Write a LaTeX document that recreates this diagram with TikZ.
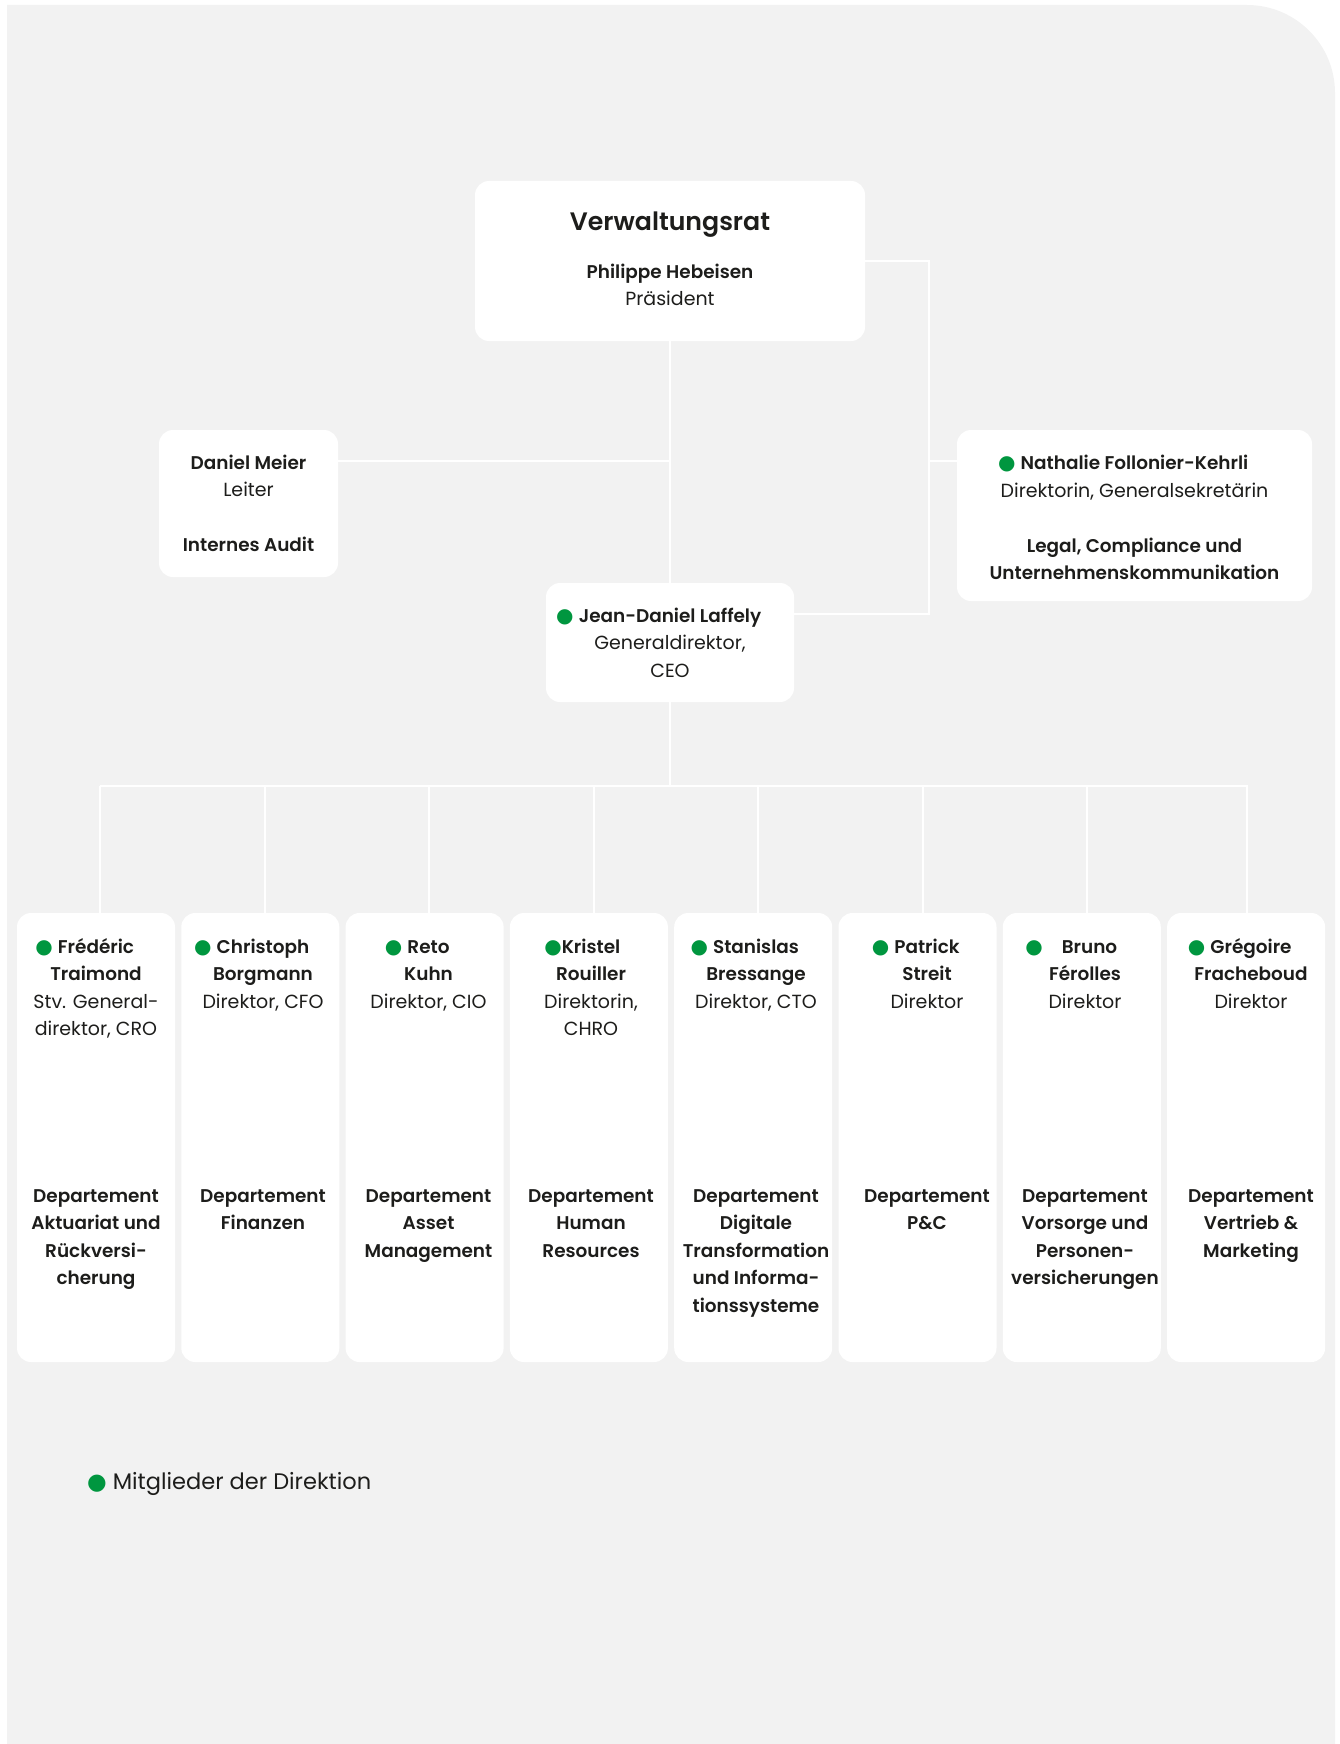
\documentclass[tikz,border=0pt]{standalone}
\usepackage{fontspec}
\setmainfont{Poppins}[BoldFont={Poppins SemiBold},BoldFeatures={Scale=0.97}]
\newfontfamily\symfont{DejaVu Sans}
\usetikzlibrary{positioning}
\definecolor{panelgray}{HTML}{F2F2F2}
\definecolor{dgreen}{HTML}{00963F}
\definecolor{ink}{HTML}{1D1D1B}
\newcommand{\bodyfont}{\fontsize{19}{27.5}\selectfont}
\newcommand{\gdot}[1][20]{{\symfont\fontsize{#1}{#1}\selectfont\color{dgreen}●}\vphantom{é}}

\begin{document}
\begin{tikzpicture}[x=1pt,y=-1pt,node distance=164.3pt,
    every node/.style={text=ink,font=\bodyfont},
    wire/.style={draw=white,line width=2pt}]
  \tikzstyle{box}=[fill=white,rounded corners=14pt,inner sep=0pt,align=center]
  \tikzstyle{dept}=[box,minimum width=158pt,minimum height=449pt]
  \tikzstyle{txt}=[inner sep=0pt,align=center,anchor=north]
  \tikzstyle{depttxt}=[txt,font=\bodyfont\bfseries]

  \useasboundingbox (0,0) rectangle (1340,1744);
  \fill[panelgray] (7,1744) -- (7,5) -- (1247,5)
    .. controls (1295.6,5) and (1335,44.4) .. (1335,93) -- (1335,1744) -- cycle;

  \node[box,minimum width=390pt,minimum height=160pt] (vr) at (670,261)
    {{\fontsize{26}{30}\selectfont\bfseries Verwaltungsrat}\\[20pt]
     \textbf{Philippe Hebeisen}\\Präsident\rule[-4.4pt]{0pt}{4.4pt}};
  \node[box,minimum width=179pt,minimum height=147pt] (audit) at (248.5,503.5)
    {\textbf{Daniel Meier}\\Leiter\\[27.5pt]\textbf{Internes Audit}};
  \node[box,minimum width=355pt,minimum height=171pt] (gs) at (1134.5,515.5)
    {\llap{\gdot\ }\textbf{Nathalie Follonier-Kehrli}\rule{0pt}{19pt}\\Direktorin, Generalsekretärin\\[27.5pt]
     \textbf{Legal, Compliance und}\\\textbf{Unternehmenskommunikation}};
  \node[box,minimum width=248pt,minimum height=119pt] (ceo) at (670,642.5)
    {\llap{\gdot\ }\textbf{Jean-Daniel Laffely}\\Generaldirektor,\\CEO};

  \node[dept] (d1) at (96,1137.5) {};
  \node[dept,right of=d1] (d2) {};
  \node[dept,right of=d2] (d3) {};
  \node[dept,right of=d3] (d4) {};
  \node[dept,right of=d4] (d5) {};
  \node[dept,right of=d5] (d6) {};
  \node[dept,right of=d6] (d7) {};
  \node[dept,right of=d7] (d8) {};

  \node[txt] (n1) at (96,938) {\llap{\gdot\ }\textbf{Frédéric}\\\textbf{Traimond}\\Stv. General-\\direktor, CRO};
  \node[txt] (n2) at (263,938) {\llap{\gdot\ }\textbf{Christoph}\\\textbf{Borgmann}\\Direktor, CFO};
  \node[txt] (n3) at (428.5,938) {\llap{\gdot\ }\textbf{Reto}\\\textbf{Kuhn}\\Direktor, CIO};
  \node[txt] (n4) at (591,938) {\llap{\gdot}\textbf{Kristel}\\\textbf{Rouiller}\\Direktorin,\\CHRO};
  \node[txt] (n5) at (756,938) {\llap{\gdot\ }\textbf{Stanislas}\\\textbf{Bressange}\\Direktor, CTO};
  \node[txt] (n6) at (927,938) {\llap{\gdot\ }\textbf{Patrick}\\\textbf{Streit}\\Direktor};
  \node[txt] (n7) at (1085,938) {\hspace*{9pt}\llap{\gdot\quad}\textbf{Bruno}\\\textbf{Férolles}\\Direktor};
  \node[txt] (n8) at (1251,938) {\llap{\gdot\ }\textbf{Grégoire}\\\textbf{Fracheboud}\\Direktor};

  \node[depttxt] at (n1 |- 0,1189) {Departement\\Aktuariat und\\Rückversi-\\cherung};
  \node[depttxt] at (n2 |- 0,1189) {Departement\\Finanzen};
  \node[depttxt] at (n3 |- 0,1189) {Departement\\Asset\\Management};
  \node[depttxt] at (n4 |- 0,1189) {Departement\\Human\\Resources};
  \node[depttxt] at (n5 |- 0,1189) {Departement\\Digitale\\Transformation\\und Informa-\\tionssysteme};
  \node[depttxt] at (n6 |- 0,1189) {Departement\\P\&C};
  \node[depttxt] at (n7 |- 0,1189) {Departement\\Vorsorge und\\Personen-\\versicherungen};
  \node[depttxt] at (n8 |- 0,1189) {Departement\\Vertrieb \&\\Marketing};

  \node[txt,anchor=west,font=\fontsize{22.5}{27}\selectfont] (legend) at (87,1484)
    {\gdot[22.5]\ Mitglieder der Direktion};

  \coordinate (ja) at (670,461);
  \coordinate (rn) at (929,461);
  \coordinate (rc) at (929,614);
  \coordinate (bus) at (670,786);
  \coordinate (bl) at (100,786);
  \coordinate (br) at (1248,786);

  \draw[wire] (vr.east) -| (rc) -- (ceo.east |- rc);
  \draw[wire] (bl) -- (br);
  \path[wire] (vr) edge (ceo)
        (audit.east |- ja) edge (ja)
        (rn) edge (gs.west |- rn)
        (ceo) edge (bus)
        (d1.north -| 100,0) edge (bus -| 100,0)
        (d2.north -| 265,0) edge (bus -| 265,0)
        (d3.north -| 429,0) edge (bus -| 429,0)
        (d4.north -| 594,0) edge (bus -| 594,0)
        (d5.north -| 758,0) edge (bus -| 758,0)
        (d6.north -| 923,0) edge (bus -| 923,0)
        (d7.north -| 1087,0) edge (bus -| 1087,0)
        (d8.north -| 1247,0) edge (bus -| 1247,0);
\end{tikzpicture}
\end{document}
